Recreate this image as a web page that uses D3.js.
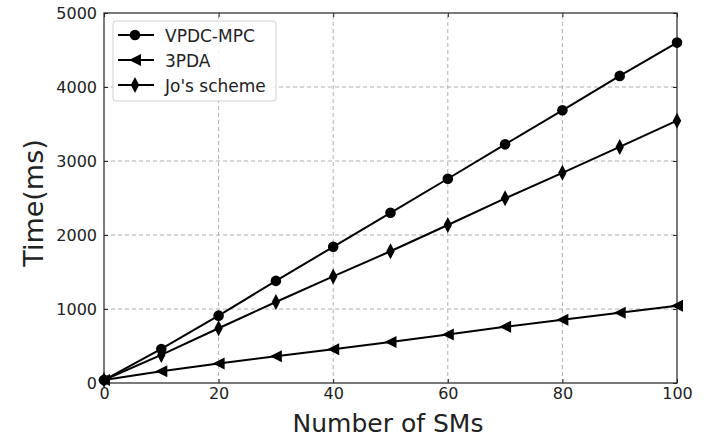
<!DOCTYPE html>
<html>
<head>
<meta charset="utf-8">
<script src="https://cdn.jsdelivr.net/npm/d3@7"></script>
<style>
  body { margin: 0; background: #fff; }
  svg { display: block; font-family: "DejaVu Sans", sans-serif; }
</style>
</head>
<body>
<script>
const sms = [0, 10, 20, 30, 40, 50, 60, 70, 80, 90, 100];
const vpdc = [40, 460, 910, 1380, 1840, 2300, 2760, 3225, 3685, 4150, 4600];
const pda3 = [40, 160, 265, 360, 455, 555, 655, 760, 855, 950, 1045];
const jos = [40, 380, 740, 1095, 1440, 1780, 2135, 2495, 2840, 3190, 3545];
const seriesNames = ["VPDC-MPC", "3PDA", "Jo's scheme"];
const xTicks = [0, 20, 40, 60, 80, 100];
const yTicks = [0, 1000, 2000, 3000, 4000, 5000];

const width = 705, height = 439;
const margin = { top: 13, right: 28, bottom: 56, left: 104 };

const svg = d3.select("body").append("svg")
  .attr("width", width).attr("height", height);

const x = d3.scaleLinear().domain([0, 100]).range([margin.left, width - margin.right]);
const y = d3.scaleLinear().domain([0, 5000]).range([height - margin.bottom, margin.top]);

// grid
svg.append("g").selectAll("line")
  .data(xTicks.slice(1, -1))
  .join("line")
  .attr("x1", d => x(d)).attr("x2", d => x(d))
  .attr("y1", y(0)).attr("y2", y(5000))
  .attr("stroke", "#b0b0b0").attr("stroke-width", 1).attr("stroke-dasharray", "4,3");
svg.append("g").selectAll("line")
  .data(yTicks.slice(1, -1))
  .join("line")
  .attr("y1", d => y(d)).attr("y2", d => y(d))
  .attr("x1", x(0)).attr("x2", x(100))
  .attr("stroke", "#b0b0b0").attr("stroke-width", 1).attr("stroke-dasharray", "4,3");

// axes, ticks inward
const tickLen = 4;
const fmt = d3.format("d");
const gx = svg.append("g").attr("transform", `translate(0,${y(0)})`)
  .call(d3.axisBottom(x).tickValues(xTicks).tickSize(-tickLen).tickPadding(5).tickFormat(fmt));
const gy = svg.append("g").attr("transform", `translate(${x(0)},0)`)
  .call(d3.axisLeft(y).tickValues(yTicks).tickSize(-tickLen).tickPadding(7).tickFormat(fmt));
const gt = svg.append("g").attr("transform", `translate(0,${y(5000)})`)
  .call(d3.axisTop(x).tickValues(xTicks).tickSize(-tickLen).tickFormat(""));
const gr = svg.append("g").attr("transform", `translate(${x(100)},0)`)
  .call(d3.axisRight(y).tickValues(yTicks).tickSize(-tickLen).tickFormat(""));

[gx, gy, gt, gr].forEach(g => {
  g.attr("font-size", null).attr("font-family", null);
  g.select(".domain").remove();
  g.selectAll("line").attr("stroke", "#222").attr("stroke-width", 1);
  g.selectAll("text").attr("fill", "#222").style("font-size", "16px");
});

svg.append("rect")
  .attr("x", x(0)).attr("y", y(5000))
  .attr("width", x(100) - x(0)).attr("height", y(0) - y(5000))
  .attr("fill", "none").attr("stroke", "#222").attr("stroke-width", 1.2);

// labels
svg.append("text")
  .attr("x", 388).attr("y", 432)
  .attr("text-anchor", "middle").style("font-size", "25px").attr("fill", "#222")
  .text("Number of SMs");
svg.append("text")
  .attr("transform", `translate(43,203) rotate(-90)`)
  .attr("text-anchor", "middle").style("font-size", "27px").attr("fill", "#222")
  .text("Time(ms)");

// markers
function drawMarker(g, idx, cx, cy) {
  let d;
  if (idx === 0) {
    d = d3.symbol().type(d3.symbolCircle).size(88)();
  } else if (idx === 1) {
    const s = 6;
    d = `M${-s},0L${s},${-s}L${s},${s}Z`;
  } else {
    const w = 4.2, h = 8;
    d = `M0,${-h}L${w},0L0,${h}L${-w},0Z`;
  }
  g.append("path").attr("d", d).attr("transform", `translate(${cx},${cy})`).attr("fill", "#000");
}

const allSeries = [vpdc, pda3, jos];
const line = d3.line().x((d, i) => x(sms[i])).y(d => y(d));
allSeries.forEach((vals, idx) => {
  const g = svg.append("g");
  g.append("path").datum(vals).attr("d", line)
    .attr("fill", "none").attr("stroke", "#000").attr("stroke-width", 2);
  vals.forEach((v, i) => drawMarker(g, idx, x(sms[i]), y(v)));
});

// legend
const lg = svg.append("g").attr("transform", "translate(113,21)");
lg.append("rect").attr("width", 163).attr("height", 80).attr("rx", 3)
  .attr("fill", "#fff").attr("fill-opacity", 0.85).attr("stroke", "#d0d0d0");
seriesNames.forEach((name, i) => {
  const cy = 14 + i * 25;
  lg.append("line").attr("x1", 5).attr("x2", 41).attr("y1", cy).attr("y2", cy)
    .attr("stroke", "#000").attr("stroke-width", 2);
  drawMarker(lg, i, 22, cy);
  lg.append("text").attr("x", 52).attr("y", cy + 6.5)
    .style("font-size", "17px").attr("fill", "#222").text(name);
});
</script>
</body>
</html>
